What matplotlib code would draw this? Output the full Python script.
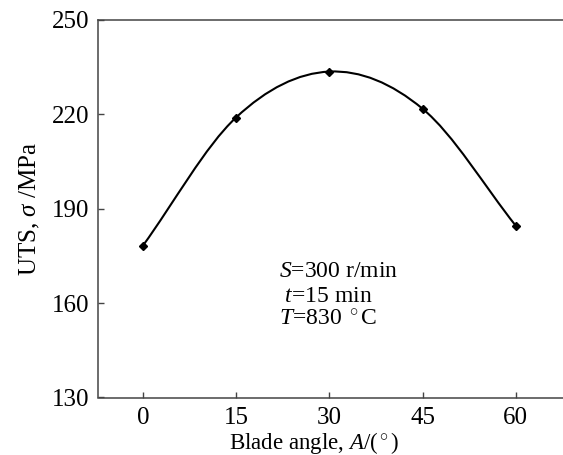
import numpy as np
import matplotlib
matplotlib.use('Agg')
import matplotlib.pyplot as plt
from matplotlib.path import Path
from matplotlib.patches import PathPatch

# 字体设置
plt.rcParams['font.family'] = ['Liberation Serif', 'DejaVu Serif']
plt.rcParams['mathtext.fontset'] = 'custom'
plt.rcParams['mathtext.rm'] = 'Liberation Serif'
plt.rcParams['mathtext.it'] = 'Liberation Serif:italic'

# 数据
blade_angle = [0, 15, 30, 45, 60]
uts = [178.2, 219.0, 233.6, 221.8, 184.6]
x_ticks = [0, 15, 30, 45, 60]
y_ticks = [130, 160, 190, 220, 250]
notes = ['$\\mathit{S}$=300 r/min', ' $\\mathit{t}$=15 min', '$\\mathit{T}$=830 $^\\circ$C']


def smooth_path(x, y):
    """用三次贝塞尔曲线平滑连接各数据点 (Catmull-Rom 切线)"""
    x = np.asarray(x, float)
    y = np.asarray(y, float)
    n = len(x)
    mx = np.gradient(x)
    my = np.gradient(y)
    verts = [(x[0], y[0])]
    codes = [Path.MOVETO]
    for i in range(n - 1):
        verts.append((x[i] + mx[i] / 3, y[i] + my[i] / 3))
        verts.append((x[i + 1] - mx[i + 1] / 3, y[i + 1] - my[i + 1] / 3))
        verts.append((x[i + 1], y[i + 1]))
        codes += [Path.CURVE4] * 3
    return Path(verts, codes)


fig = plt.figure(figsize=(5.63, 4.55), dpi=100)
ax_w = 1 - 98 / 563 + 0.01
ax = fig.add_axes([98 / 563, 1 - 397.5 / 455, ax_w, (397.5 - 20) / 455])
ax_w_px = ax_w * 563

ax.add_patch(PathPatch(smooth_path(blade_angle, uts), fill=False,
                       edgecolor='black', linewidth=1.5))
ax.plot(blade_angle, uts, linestyle='none', marker='D', markersize=4.5,
        color='black')

ax.set_xlim(-7.2, 68.5)
ax.set_ylim(130, 250)
ax.set_xticks(x_ticks)
ax.set_yticks(y_ticks)

for side in ['left', 'bottom', 'top']:
    ax.spines[side].set_color('#444444')
    ax.spines[side].set_linewidth(1.1)
ax.spines['right'].set_visible(False)

ax.tick_params(direction='in', length=4, width=1, color='#444444',
               labelsize=18, pad=6)
ax.tick_params(axis='x', pad=6.5)

ax.set_xlabel(r'Blade angle, $\mathit{A}$/($^\circ$)', fontsize=16.5)
ax.xaxis.set_label_coords((314 - 98) / ax_w_px, -(430 - 397.5) / 377.5)
ax.set_ylabel(r'UTS, $\mathit{\sigma}$ /MPa', fontsize=18)
ax.yaxis.set_label_coords((42 - 98) / ax_w_px, 0.5)

for note, yb in zip(notes, [168.3, 160.2, 153.0]):
    ax.text(21.9, yb, note, fontsize=17, va='baseline', ha='left')

fig.savefig('out.png', dpi=100)
